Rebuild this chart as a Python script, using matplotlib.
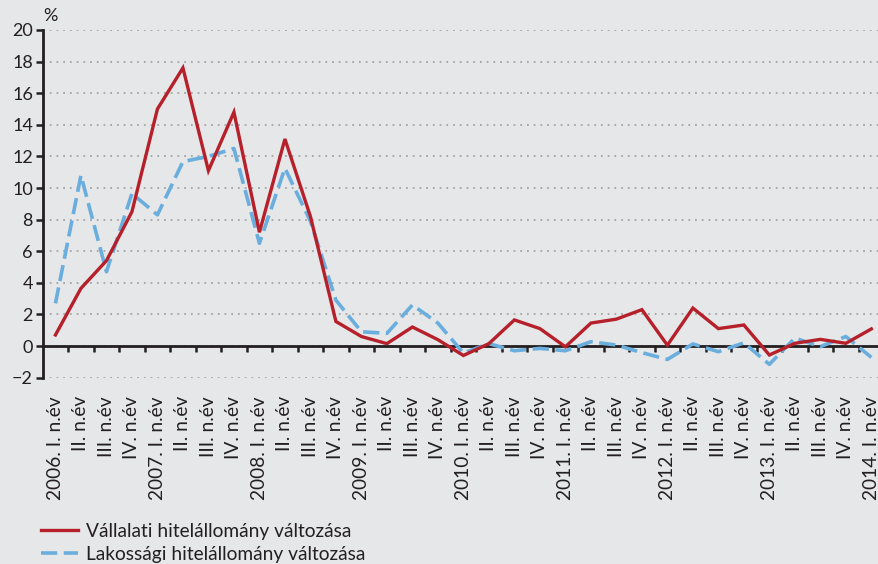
import matplotlib
matplotlib.use("Agg")
import matplotlib.pyplot as plt
import numpy as np

plt.rcParams['font.family'] = ['Lato', 'DejaVu Sans']

years = ["2006.", "2007.", "2008.", "2009.", "2010.", "2011.", "2012.", "2013.", "2014."]
quarters = ["I.", "II.", "III.", "IV."]
labels = []
for y in years:
    for i, q in enumerate(quarters):
        if y == "2014." and i > 0:
            break
        labels.append(f"{y} {q} n.év" if i == 0 else f"{q} n.év")

vallalati = [0.7, 3.65, 5.4, 8.5, 15.0, 17.6, 11.1, 14.8, 7.2, 13.1,
             8.2, 1.55, 0.6, 0.15, 1.2, 0.4, -0.6, 0.15, 1.65, 1.1,
             -0.05, 1.45, 1.7, 2.3, 0.05, 2.4, 1.1, 1.33, -0.57, 0.17,
             0.42, 0.17, 1.08]
lakossagi = [2.7, 10.8, 4.7, 9.65, 8.3, 11.67, 12.0, 12.5, 6.5, 11.25,
             7.9, 2.9, 0.9, 0.8, 2.6, 1.45, -0.45, 0.15, -0.3, -0.15,
             -0.3, 0.27, 0.06, -0.42, -0.85, 0.13, -0.36, 0.2, -1.16, 0.5,
             -0.04, 0.6, -0.72]
series_names = ["Vállalati hitelállomány változása", "Lakossági hitelállomány változása"]

bg = "#e6e7e9"
dark = "#231f20"
red = "#b5202a"
blue = "#6aaedd"

fig = plt.figure(figsize=(8.79, 5.64), dpi=100, facecolor=bg)
ax = fig.add_axes([42.7/879, 1-377.6/564, (879-42.7)/879, (377.6-30)/564])
ax.set_facecolor(bg)

x = np.arange(len(labels))
l1, = ax.plot(x, vallalati, color=red, lw=2.4, solid_joinstyle='miter', zorder=4, label=series_names[0])
l2, = ax.plot(x, lakossagi, color=blue, lw=2.6, dashes=(4.5, 1.8), zorder=3, label=series_names[1])

ax.set_xlim(-0.5, len(labels) - 0.7)
ax.set_ylim(-2, 20)
ax.set_yticks(np.arange(-2, 21, 2))
ax.set_yticklabels([("\u22122" if v < 0 else str(v)) for v in range(-2, 21, 2)])
ax.yaxis.grid(True, color="#9a9a9a", linestyle=(0, (1.2, 3.2)), linewidth=1.1)
ax.set_axisbelow(True)

for s in ["top", "right"]:
    ax.spines[s].set_visible(False)
ax.spines["left"].set_color(dark)
ax.spines["left"].set_linewidth(2.0)
ax.spines["bottom"].set_position(("data", 0))
ax.spines["bottom"].set_color(dark)
ax.spines["bottom"].set_linewidth(2.0)
ax.spines["bottom"].set_zorder(2)

ax.set_xticks(x)
ax.set_xticklabels(labels, rotation=90, va="top", ha="center", fontsize=13.8, color=dark)
ax.tick_params(axis="x", which="major", length=0, pad=36)
ax.set_xticks(np.arange(-0.5, len(labels) - 0.5, 1.0)[1:], minor=True)
ax.tick_params(axis="x", which="minor", length=4, width=1.8, color=dark, direction="out")
ax.tick_params(axis="y", length=5, width=1.8, color=dark, labelsize=13, labelcolor=dark, pad=2)

fig.text(50/879, 1-16/564, "%", fontsize=13, color=dark, ha="center", va="center")

fig.legend(handles=[l1, l2], loc="upper left", bbox_to_anchor=(0.047, 1-523/564),
           frameon=False, fontsize=13.8, handlelength=1.9, labelspacing=0.3,
           handletextpad=0.45, borderaxespad=0, borderpad=0, labelcolor=dark)

fig.savefig("out.png", dpi=100, facecolor=bg)
